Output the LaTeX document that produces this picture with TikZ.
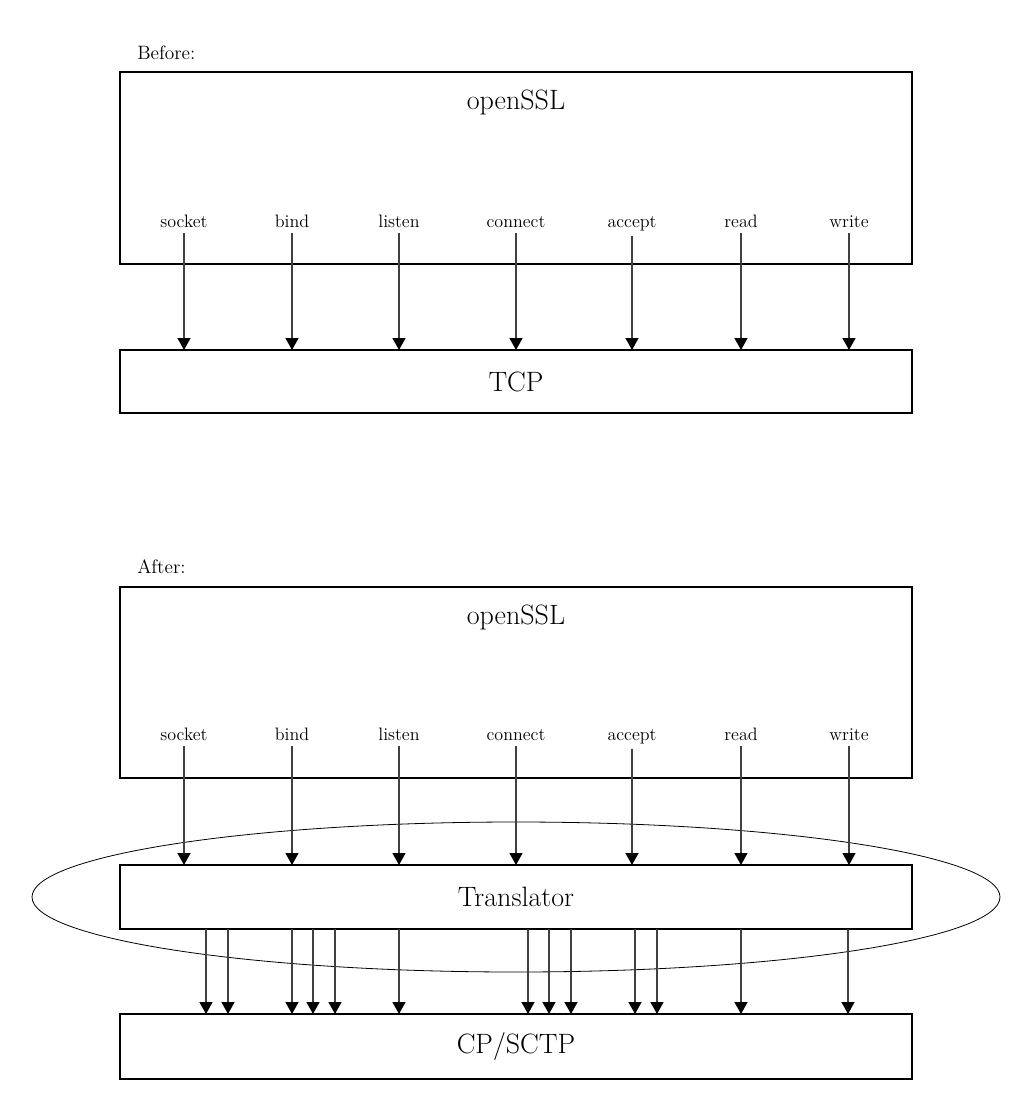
\documentclass[tikz,border=0pt]{standalone}
\usetikzlibrary{arrows.meta,shapes.geometric}
\begin{document}
\begin{tikzpicture}[x=0.75pt,y=-0.75pt,
  box/.style={draw,line width=0.8pt,inner sep=0pt,outer sep=0pt,minimum width=594pt},
  bigbox/.style={box,minimum height=144pt},
  title/.style={font=\fontsize{21}{24}\selectfont,inner sep=0pt},
  lbl/.style={font=\fontsize{13.5}{16}\selectfont,inner sep=0pt},
  heading/.style={font=\fontsize{14.5}{17}\selectfont,inner sep=0pt,anchor=west},
  arr/.style={line width=1pt,draw=black!75,-{Triangle[width=9.75pt,length=9pt,color=black,fill=black]}}]
\useasboundingbox (0,0) rectangle (1020,1097);
\fill[white] (0,0) rectangle (1020,1097);
% Before
\node[heading] (before) at (137,53) {Before:};
\node[bigbox] (ssl1) at (516,168) {};
\node[title] (ssl1t) at (516,102) {openSSL};
\node[box,minimum height=47.25pt] (tcp) at (516,381.5) {};
\node[title] (tcpt) at (516,381.5) {TCP};
\foreach \n/\x/\t in {a/184/socket,b/292/bind,c/399/listen,d/516/connect,e/632/accept,f/741/read,g/849/write}{
  \node[lbl,anchor=base] (u\n) at (\x,227) {\t};
  \draw[arr] ([yshift=-4pt]u\n.south) -- (u\n.south |- tcp.north);
}
% After
\node[heading] (after) at (137,567) {After:};
\node[box,minimum height=143.25pt] (ssl2) at (516,682.5) {};
\node[title] (ssl2t) at (516,617) {openSSL};
\node[box,minimum height=48pt] (tr) at (516,897) {};
\node[title] (trt) at (516,897) {Translator};
\node[box,minimum height=48.75pt] (cp) at (516,1046.5) {};
\node[title] (cpt) at (516,1046.5) {CP/SCTP};
\node[draw,ellipse,line width=0.6pt,inner sep=0pt,minimum width=726pt,minimum height=112.5pt] (ell) at (516,897) {};
\foreach \n/\x/\t in {a/184/socket,b/292/bind,c/399/listen,d/516/connect,e/632/accept,f/741/read,g/849/write}{
  \node[lbl,anchor=base] (l\n) at (\x,740) {\t};
  \draw[arr] ([yshift=-4pt]l\n.south) -- (l\n.south |- tr.north);
}
\foreach \x [count=\i] in {206,228,292,313,335,399,528,549,571,635,657,741,848}{
  \coordinate (s\i) at (\x,929);
  \draw[arr] (s\i) -- (s\i |- cp.north);
}
\end{tikzpicture}
\end{document}
